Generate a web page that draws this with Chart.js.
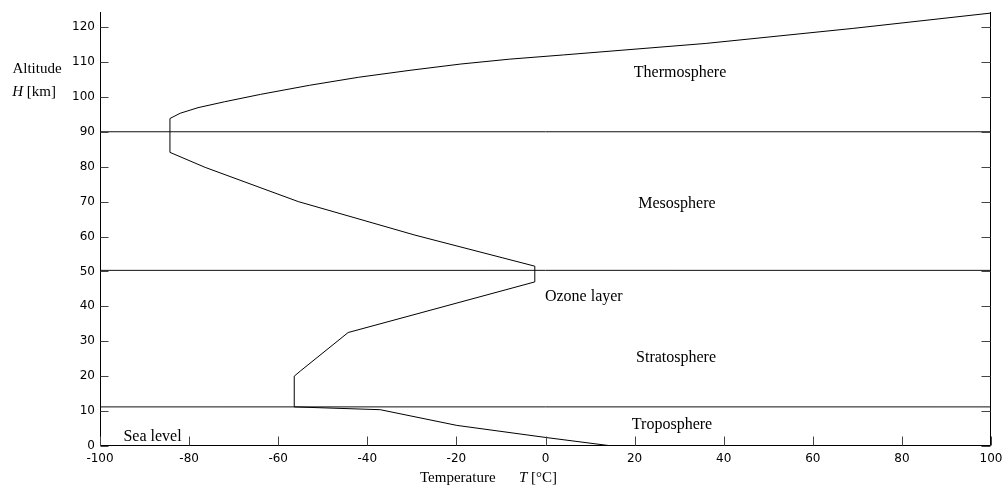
<!DOCTYPE html>
<html>
<head>
<meta charset="utf-8">
<script src="https://cdn.jsdelivr.net/npm/chart.js@4"></script>
<style>
html,body{margin:0;padding:0;background:#fff;}
canvas{display:block;}
</style>
</head>
<body>
<canvas id="c" width="1004" height="491"></canvas>
<script>
// Temperature profile (T in °C vs altitude H in km)
const temps = [15, 0.3, -19.9, -37.1, -56.4, -56.4, -55, -44.3, -2.4, -2.4, -29.3, -43.2, -55.5, -76.4, -84.3, -84.3, -82, -78, -72, -64, -53, -42, -30.4, -19, -8, 4, 36, 69, 100];
const alts  = [0, 2.4, 5.9, 10.4, 11.2, 20.0, 21.5, 32.5, 47.0, 51.5, 60.4, 65.5, 70.0, 79.8, 84.1, 93.8, 95.3, 96.9, 98.6, 100.7, 103.3, 105.6, 107.6, 109.4, 110.8, 112, 115.3, 119.6, 124];

// Layer boundaries (km)
const boundaries = [11.2, 50.3, 90];

// Region labels
const regionNames = ["Thermosphere", "Mesosphere", "Ozone layer", "Stratosphere", "Troposphere", "Sea level"];
const regionT = [30.2, 29.5, 8.6, 29.3, 28.4, -88.2];
const regionH = [106.8, 69.5, 42.6, 25.4, 6.2, 2.5];

// Axis settings
const xMin = -100, xMax = 100, xStep = 20;
const yMin = 0, yMax = 124.3, yStep = 10;

const profile = temps.map((t, i) => ({x: t, y: alts[i]}));
const boundarySets = boundaries.map(h => ({
  data: [{x: xMin, y: h}, {x: xMax, y: h}],
  showLine: true, borderColor: '#111', borderWidth: 1, pointRadius: 0, tension: 0
}));

const decor = {
  id: 'decor',
  afterDraw(chart) {
    const ctx = chart.ctx, a = chart.chartArea;
    const xs = chart.scales.x, ys = chart.scales.y;
    ctx.save();
    ctx.strokeStyle = '#000';
    ctx.lineWidth = 1;
    const L = Math.round(a.left) + 0.5, R = Math.round(a.right) - 0.5;
    const B = Math.round(a.bottom) - 0.5, T = Math.round(a.top);
    ctx.beginPath();
    ctx.moveTo(L, T); ctx.lineTo(L, B); ctx.lineTo(R, B); ctx.lineTo(R, T);
    ctx.stroke();
    ctx.strokeStyle = '#444';
    ctx.beginPath();
    ys.ticks.forEach(t => {
      const py = Math.round(ys.getPixelForValue(t.value)) + 0.5;
      ctx.moveTo(L, py); ctx.lineTo(L + 8, py);
      ctx.moveTo(R, py); ctx.lineTo(R - 9, py);
    });
    xs.ticks.forEach(t => {
      const px = Math.round(xs.getPixelForValue(t.value)) + 0.5;
      ctx.moveTo(px, B); ctx.lineTo(px, B - 9);
    });
    ctx.stroke();

    // region labels
    ctx.fillStyle = '#000';
    ctx.font = '16px "Liberation Serif", "Times New Roman", serif';
    ctx.textAlign = 'center';
    ctx.textBaseline = 'middle';
    regionNames.forEach((n, i) => {
      ctx.fillText(n, xs.getPixelForValue(regionT[i]), ys.getPixelForValue(regionH[i]));
    });

    // axis titles
    ctx.textAlign = 'left';
    ctx.textBaseline = 'alphabetic';
    ctx.font = '15px "Liberation Serif", serif';
    const wAlt = ctx.measureText('Altitude').width;
    ctx.fillText('Altitude', 37 - wAlt / 2, 73);
    ctx.font = 'italic 15px "Liberation Serif", serif';
    const wH = ctx.measureText('H').width;
    ctx.font = '15px "Liberation Serif", serif';
    const wKm = ctx.measureText(' [km]').width;
    let sx = 34 - (wH + wKm) / 2;
    ctx.font = 'italic 15px "Liberation Serif", serif';
    ctx.fillText('H', sx, 96);
    ctx.font = '15px "Liberation Serif", serif';
    ctx.fillText(' [km]', sx + wH, 96);

    ctx.font = '15px "Liberation Serif", serif';
    ctx.fillText('Temperature', 420, 482);
    ctx.font = 'italic 15px "Liberation Serif", serif';
    ctx.fillText('T', 519, 482);
    const wT = ctx.measureText('T').width;
    ctx.font = '15px "Liberation Serif", serif';
    ctx.fillText(' [°C]', 519 + wT, 482);
    ctx.restore();
  }
};

new Chart(document.getElementById('c'), {
  type: 'scatter',
  data: {
    datasets: [{
      data: profile, showLine: true, borderColor: '#000', borderWidth: 1,
      pointRadius: 0, tension: 0
    }, ...boundarySets]
  },
  options: {
    responsive: false,
    animation: false,
    devicePixelRatio: 1,
    layout: {padding: {top: 12, right: 13, left: 0, bottom: 0}},
    plugins: {legend: {display: false}, tooltip: {enabled: false}},
    scales: {
      x: {
        type: 'linear', min: xMin, max: xMax,
        grid: {display: false, drawTicks: false},
        border: {display: false},
        ticks: {stepSize: xStep, includeBounds: false, color: '#000', padding: 6, maxRotation: 0,
                font: {family: '"DejaVu Sans", sans-serif', size: 12}},
        afterFit(s) { s.height = 45; s.paddingLeft = 0; s.paddingRight = 0; }
      },
      y: {
        type: 'linear', min: yMin, max: yMax,
        grid: {display: false, drawTicks: false},
        border: {display: false},
        ticks: {stepSize: yStep, includeBounds: false, color: '#000', padding: 5,
                font: {family: '"DejaVu Sans", sans-serif', size: 12}},
        afterFit(s) { s.width = 100; s.paddingTop = 0; s.paddingBottom = 0; }
      }
    }
  },
  plugins: [decor]
});
</script>
</body>
</html>
